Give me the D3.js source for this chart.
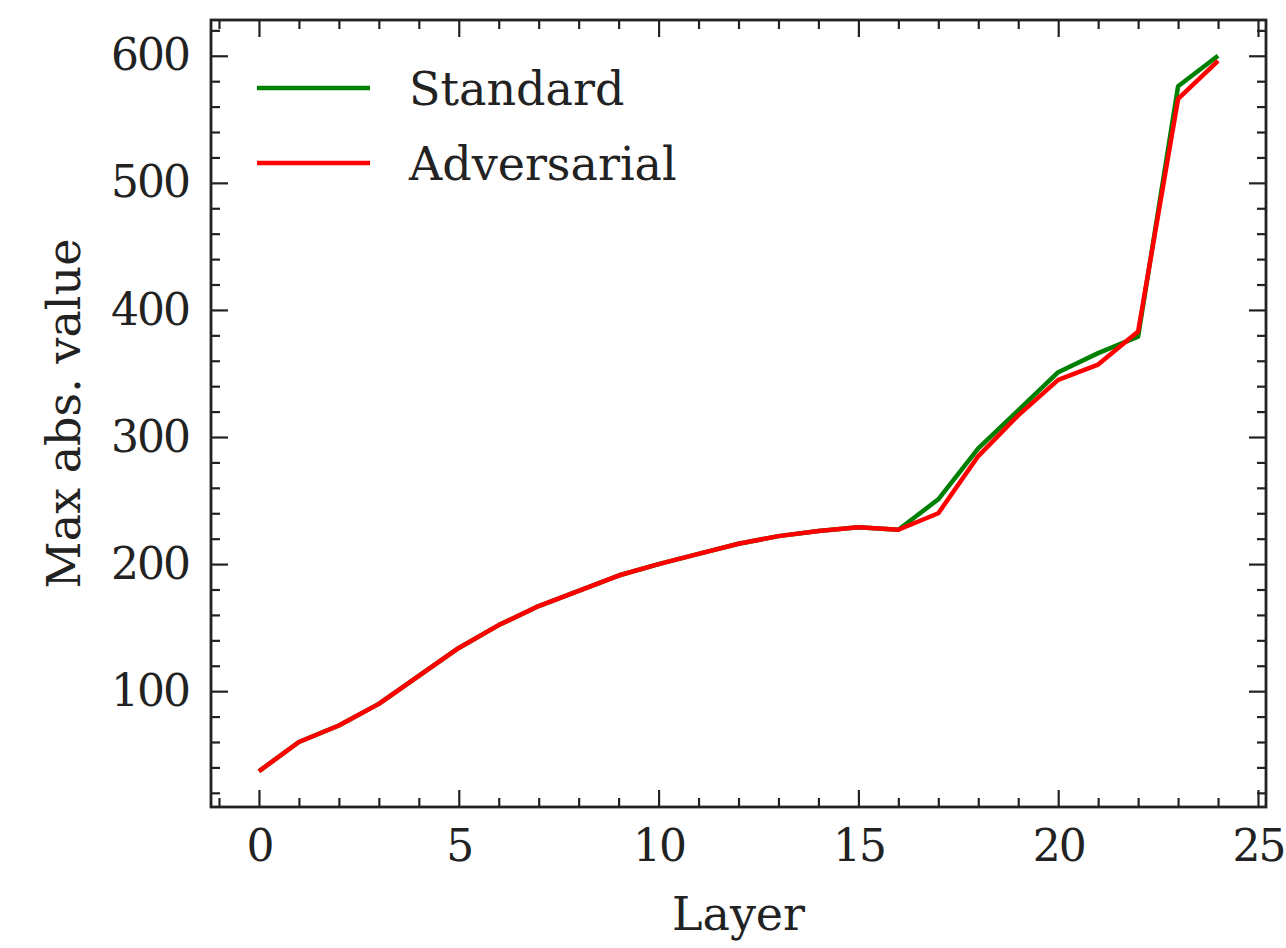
<!DOCTYPE html>
<html>
<head>
<meta charset="utf-8">
<script src="https://cdn.jsdelivr.net/npm/d3@7"></script>
<style>
  body { margin: 0; background: #fff; }
</style>
</head>
<body>
<div id="chart"></div>
<script>
"use strict"

// layer index
var layers = [0,1,2,3,4,5,6,7,8,9,10,11,12,13,14,15,16,17,18,19,20,21,22,23,24];
// max abs. value per layer
var standard    = [37,60,73,90,112,134,152,167,179,191,200,208,216,222,226,229,227,251,291,321,351,366,379,576,600];
var adversarial = [37,60,73,90,112,134,152,167,179,191,200,208,216,222,226,229,227,240,285,317,345,357,383,566,596];
var seriesNames = ["Standard", "Adversarial"];
var seriesColors = ["#008000", "#ff0000"];
var xTicks = [0,5,10,15,20,25];
var yTicks = [100,200,300,400,500,600];

var FONT = "'DejaVu Serif', serif";

var W = 1286, H = 948;
var margin = {top: 20, right: 20, bottom: 141, left: 211},
  width = 1266 - margin.left,
  height = 807 - margin.top;

let svg = d3.select("#chart")
            .append("svg")
                .attr("width", W)
                .attr("height", H)
            .append("g")
                .attr("transform", "translate(" + margin.left + "," + margin.top + ")");

// matplotlib style 5% margins
var xPad = (d3.max(layers) - d3.min(layers)) * 0.05;
var allVals = standard.concat(adversarial);
var yPad = (d3.max(allVals) - d3.min(allVals)) * 0.05;

const x = d3.scaleLinear()
  .domain([d3.min(layers) - xPad, d3.max(layers) + xPad])
  .range([0, width]);
const y = d3.scaleLinear()
  .domain([d3.min(allVals) - yPad, d3.max(allVals) + yPad])
  .range([height, 0]);

var xMinor = d3.range(Math.ceil(x.domain()[0]), Math.floor(x.domain()[1]) + 1).filter(v => v % 5 !== 0);
var yMinor = d3.range(Math.ceil(y.domain()[0] / 20) * 20, y.domain()[1], 20).filter(v => v % 100 !== 0);

const fontSize = 46;
const tickFontSize = 44;

function styleAxis(g) {
  g.attr("font-family", null).attr("font-size", null);
  g.select(".domain").remove();
  g.selectAll(".tick line").attr("stroke", "#222").attr("stroke-width", 2.2);
  g.selectAll("text")
    .style("font-family", FONT)
    .style("font-size", tickFontSize + "px")
    .style("letter-spacing", "-2px")
    .attr("fill", "#222");
}

// bottom
svg.append("g").attr("transform", "translate(0," + height + ")")
  .call(d3.axisBottom(x).tickValues(xTicks).tickSize(-17).tickPadding(23).tickFormat(d3.format("d")))
  .call(styleAxis);
svg.append("g").attr("transform", "translate(0," + height + ")")
  .call(d3.axisBottom(x).tickValues(xMinor).tickSize(-9).tickFormat(""))
  .call(styleAxis);
// top
svg.append("g")
  .call(d3.axisTop(x).tickValues(xTicks).tickSize(-17).tickFormat(""))
  .call(styleAxis);
svg.append("g")
  .call(d3.axisTop(x).tickValues(xMinor).tickSize(-9).tickFormat(""))
  .call(styleAxis);
// left
svg.append("g")
  .call(d3.axisLeft(y).tickValues(yTicks).tickSize(-17).tickPadding(22).tickFormat(d3.format("d")))
  .call(styleAxis);
svg.append("g")
  .call(d3.axisLeft(y).tickValues(yMinor).tickSize(-9).tickFormat(""))
  .call(styleAxis);
// right
svg.append("g").attr("transform", "translate(" + width + ",0)")
  .call(d3.axisRight(y).tickValues(yTicks).tickSize(-17).tickFormat(""))
  .call(styleAxis);
svg.append("g").attr("transform", "translate(" + width + ",0)")
  .call(d3.axisRight(y).tickValues(yMinor).tickSize(-9).tickFormat(""))
  .call(styleAxis);

// frame
svg.append("rect")
  .attr("width", width)
  .attr("height", height)
  .attr("fill", "none")
  .attr("stroke", "#222")
  .attr("stroke-width", 2.8);

// lines
const line = d3.line()
  .x((d, i) => x(layers[i]))
  .y(d => y(d));

[standard, adversarial].forEach((s, k) => {
  svg.append("path")
    .datum(s)
    .attr("fill", "none")
    .attr("stroke", seriesColors[k])
    .attr("stroke-width", 4.5)
    .attr("stroke-linejoin", "round")
    .attr("d", line);
});

// legend
const legend = svg.append("g").attr("transform", "translate(46,68)");
seriesNames.forEach((name, k) => {
  const row = legend.append("g").attr("transform", "translate(0," + (k * 75) + ")");
  row.append("line")
    .attr("x1", 0).attr("x2", 113)
    .attr("stroke", seriesColors[k])
    .attr("stroke-width", 4.5);
  row.append("text")
    .attr("x", 152)
    .attr("dy", "0.36em")
    .style("font-family", FONT)
    .style("font-size", fontSize + "px")
    .attr("fill", "#222")
    .text(name);
});

// axis labels
svg.append("text")
  .attr("x", width / 2)
  .attr("y", height + 123)
  .attr("text-anchor", "middle")
  .style("font-family", FONT)
  .style("font-size", fontSize + "px")
  .attr("fill", "#222")
  .text("Layer");

svg.append("text")
  .attr("transform", "translate(" + (80 - margin.left) + "," + (height / 2) + ") rotate(-90)")
  .attr("text-anchor", "middle")
  .style("font-family", FONT)
  .style("font-size", fontSize + "px")
  .attr("fill", "#222")
  .text("Max abs. value");
</script>
</body>
</html>
